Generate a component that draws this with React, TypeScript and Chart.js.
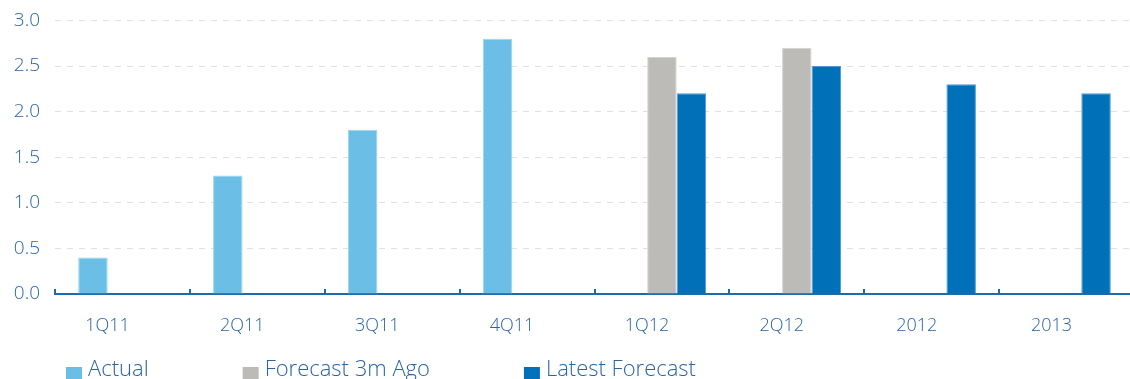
import React, { useEffect, useRef } from "react";
import { Chart, registerables } from "chart.js";

Chart.register(...registerables);

const categories = ["1Q11", "2Q11", "3Q11", "4Q11", "1Q12", "2Q12", "2012", "2013"];
const actual = [0.4, 1.3, 1.8, 2.8, null, null, null, null];
const forecast3mAgo = [null, null, null, null, 2.6, 2.7, null, null];
const latestForecast = [null, null, null, null, 2.2, 2.5, 2.3, 2.2];
const yTicks = [0, 0.5, 1.0, 1.5, 2.0, 2.5, 3.0];

const TEXT = "#2A64A5";
const AXIS = "#1D6AAF";
const FONT = "'Open Sans', sans-serif";

// Upward tick marks at category boundaries along the x axis
const boundaryTicks = {
  id: "boundaryTicks",
  afterDatasetsDraw(chart: any) {
    const x = chart.scales.x;
    const n = categories.length;
    const step = x.width / n;
    const ctx = chart.ctx;
    ctx.save();
    ctx.strokeStyle = AXIS;
    ctx.lineWidth = 2;
    for (let i = 0; i <= n; i++) {
      const px = Math.round(x.left + i * step);
      ctx.beginPath();
      ctx.moveTo(px, x.top);
      ctx.lineTo(px, x.top - 5);
      ctx.stroke();
    }
    ctx.restore();
  },
};

// Bottom legend with square swatches and wide spacing between entries
const bottomLegend = {
  id: "bottomLegend",
  afterDraw(chart: any) {
    const ctx = chart.ctx;
    ctx.save();
    ctx.font = `300 22px ${FONT}`;
    ctx.textBaseline = "middle";
    ctx.textAlign = "left";
    let xPos = 66;
    const y = chart.height - 22;
    chart.data.datasets.forEach((ds: any) => {
      ctx.fillStyle = ds.backgroundColor;
      ctx.fillRect(xPos, y - 3, 16, 12);
      ctx.fillStyle = TEXT;
      ctx.fillText(ds.label, xPos + 22, y);
      xPos += 22 + ctx.measureText(ds.label).width + 94;
    });
    ctx.restore();
  },
};

export default function App() {
  const ref = useRef<HTMLCanvasElement | null>(null);

  useEffect(() => {
    if (!ref.current) return;
    const chart = new Chart(ref.current, {
      type: "bar",
      data: {
        labels: categories,
        datasets: [
          {
            label: "Actual",
            data: actual,
            backgroundColor: "#6BBFE6",
            borderColor: "#9DD3EE",
            borderWidth: 1,
          },
          {
            label: "Forecast 3m Ago",
            data: forecast3mAgo,
            backgroundColor: "#BDBBB7",
            borderColor: "#D5D3D0",
            borderWidth: 1,
          },
          {
            label: "Latest Forecast",
            data: latestForecast,
            backgroundColor: "#0071B9",
            borderColor: "#4F9AD4",
            borderWidth: 1,
          },
        ],
      },
      options: {
        animation: false,
        responsive: true,
        maintainAspectRatio: false,
        layout: { padding: { top: 14, right: 6, bottom: 48, left: 0 } },
        datasets: {
          bar: { barPercentage: 1, categoryPercentage: 0.656, skipNull: false },
        },
        plugins: {
          legend: { display: false },
          tooltip: { enabled: false },
        },
        scales: {
          x: {
            offset: true,
            grid: { display: false, drawTicks: false },
            border: { display: true, color: AXIS, width: 2 },
            ticks: {
              color: TEXT,
              font: { family: FONT, size: 18, weight: "300" },
              padding: 21,
              labelOffset: -15,
              maxRotation: 0,
            },
            afterFit(scale: any) {
              scale.height = 50;
            },
          },
          y: {
            min: 0,
            max: 3,
            afterBuildTicks(scale: any) {
              scale.ticks = yTicks.map((v) => ({ value: v }));
            },
            grid: {
              color: "#E0E0E0",
              lineWidth: 1,
              drawTicks: false,
              borderDash: [6, 6],
              tickBorderDash: [6, 6],
            } as any,
            border: { display: false, dash: [6, 6] },
            ticks: {
              color: TEXT,
              font: { family: FONT, size: 19, weight: "300" },
              padding: 15,
              callback: (v: any) => Number(v).toFixed(1),
            },
            afterFit(scale: any) {
              scale.width = 55;
            },
          },
        },
      },
      plugins: [boundaryTicks, bottomLegend],
    });
    return () => chart.destroy();
  }, []);

  return (
    <div style={{ position: "absolute", left: 0, top: -6, width: 1140, height: 398 }}>
      <canvas ref={ref} />
    </div>
  );
}
